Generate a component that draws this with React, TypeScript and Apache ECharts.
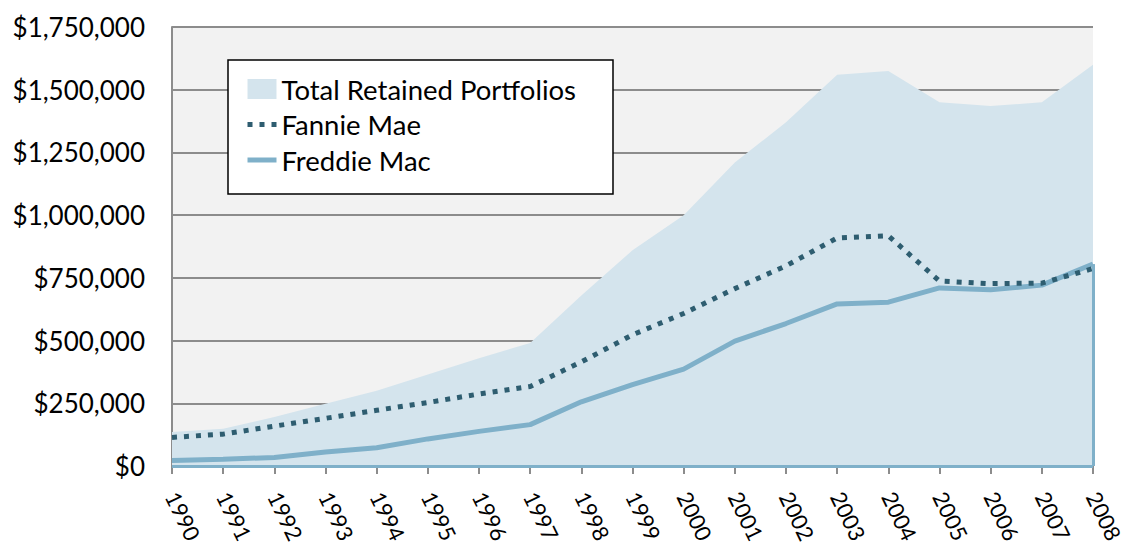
import React, { useEffect, useRef } from "react";
import * as echarts from "echarts";

const years = ["1990","1991","1992","1993","1994","1995","1996","1997","1998","1999","2000","2001","2002","2003","2004","2005","2006","2007","2008"];
const totalRetained = [136000,148000,195000,248000,300000,365000,430000,490000,680000,860000,1000000,1210000,1370000,1560000,1575000,1450000,1435000,1450000,1600000];
const fannieMae = [114000,127000,159000,190000,222000,253000,287000,317000,415000,523000,608000,707000,798000,909000,918000,737000,727000,729000,787000];
const freddieMac = [22000,27000,34000,56000,73000,108000,138000,165000,256000,324000,386000,498000,568000,646000,653000,710000,703000,721000,805000];

const FONT = "Lato, 'Open Sans', sans-serif";
const FANNIE = "#2e5d70";
const FREDDIE = "#7fb0c9";
const AREA = "#d4e4ed";

export default function App() {
  const ref = useRef<HTMLDivElement>(null);
  useEffect(() => {
    const chart = echarts.init(ref.current!, null, { renderer: "svg" });
    const fmt = (v: number) => "$" + v.toLocaleString("en-US");
    const lastYear = years[years.length - 1];
    chart.setOption({
      animation: false,
      textStyle: { fontFamily: FONT },
      grid: {
        left: 172, right: 32, top: 27, bottom: 85,
        show: true, backgroundColor: "#f2f2f2", borderWidth: 0,
        containLabel: false, outerBoundsMode: "none",
      },
      legend: {
        left: 228,
        top: 60,
        orient: "vertical",
        backgroundColor: "#ffffff",
        borderColor: "#000000",
        borderWidth: 1.5,
        borderRadius: 0,
        padding: [15, 37, 20, 17],
        itemWidth: 29,
        itemHeight: 20,
        itemGap: 7.5,
        textStyle: { fontSize: 27.5, color: "#000", fontFamily: FONT, lineHeight: 26 },
        data: [
          { name: "Total Retained Portfolios", icon: "rect" },
          { name: "Fannie Mae", itemStyle: { opacity: 0 }, lineStyle: { width: 5, color: FANNIE, type: [5, 7], cap: "butt" } },
          { name: "Freddie Mac", itemStyle: { opacity: 0 }, lineStyle: { width: 5, color: FREDDIE } },
        ],
      },
      xAxis: {
        type: "category",
        data: years,
        boundaryGap: false,
        axisLine: { show: true, lineStyle: { color: "#8c8c8c", width: 2 } },
        axisTick: { show: true, alignWithLabel: true, length: 8, lineStyle: { color: "#8c8c8c", width: 2 } },
        axisLabel: { rotate: -64, fontSize: 22, color: "#000", margin: 27, fontFamily: FONT, interval: 0, hideOverlap: false },
        splitLine: { show: false },
      },
      yAxis: {
        type: "value",
        min: 0,
        max: 1750000,
        interval: 250000,
        axisLine: { show: true, lineStyle: { color: "#8c8c8c", width: 2 } },
        axisTick: { show: false },
        axisLabel: { formatter: fmt, fontSize: 26, color: "#000", margin: 27, fontFamily: FONT },
        splitLine: { show: true, lineStyle: { color: "#8c8c8c", width: 2 } },
      },
      series: [
        {
          name: "Total Retained Portfolios",
          type: "line",
          data: totalRetained,
          showSymbol: false,
          symbol: "none",
          lineStyle: { width: 0, color: AREA },
          itemStyle: { color: AREA },
          areaStyle: { color: AREA, opacity: 1 },
          z: 2,
        },
        {
          name: "Fannie Mae",
          type: "line",
          data: fannieMae,
          showSymbol: false,
          symbol: "none",
          itemStyle: { color: FANNIE },
          lineStyle: { color: FANNIE, width: 5, type: [5, 7], cap: "butt" },
          z: 4,
        },
        {
          name: "Freddie Mac",
          type: "line",
          data: freddieMac,
          showSymbol: false,
          symbol: "none",
          itemStyle: { color: FREDDIE },
          lineStyle: { color: FREDDIE, width: 5 },
          z: 3,
          markLine: {
            silent: true,
            symbol: "none",
            label: { show: false },
            lineStyle: { color: FREDDIE, width: 3, type: "solid" },
            data: [
              { yAxis: 0 },
              [
                { coord: [lastYear, 0] },
                { coord: [lastYear, freddieMac[freddieMac.length - 1]] },
              ],
            ],
          },
        },
      ],
    });
    return () => chart.dispose();
  }, []);
  return <div ref={ref} style={{ width: 1125, height: 551, position: "absolute", left: 0, top: 0 }} />;
}
